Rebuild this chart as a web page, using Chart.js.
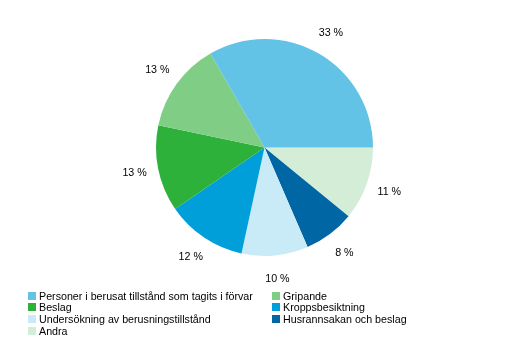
<!DOCTYPE html>
<html>
<head>
<meta charset="utf-8">
<script src="https://cdn.jsdelivr.net/npm/chart.js@4.4.0/dist/chart.umd.min.js"></script>
<style>
  html, body { margin: 0; padding: 0; background: #fff; }
  #wrap { position: relative; width: 529px; height: 340px; overflow: hidden; }
  #chart { position: absolute; left: 0; top: 0; }
  .leg { position: absolute; font: 10.7px Arial, "Liberation Sans", sans-serif; color: #000; white-space: nowrap; line-height: 12px; }
  .leg i { position: absolute; left: -11px; top: 2px; width: 8px; height: 8px; }
</style>
</head>
<body>
<div id="wrap">
  <canvas id="chart" width="529" height="340"></canvas>
</div>
<script>
// shares in percent, counterclockwise from 3 o'clock
const categories = [
    "Personer i berusat tillstånd som tagits i förvar",
    "Gripande",
    "Beslag",
    "Kroppsbesiktning",
    "Undersökning av berusningstillstånd",
    "Husrannsakan och beslag",
    "Andra",
];
const shares = [33.3, 13.4, 12.9, 12.0, 9.9, 7.6, 10.9];
const colors = ["#62c3e7", "#80ce86", "#2eb13b", "#009fda", "#c9eaf7", "#0066a4", "#d4edd6"];

// Chart.js goes clockwise, the reference goes the other way
const order = categories.map((_, i) => i).reverse();

const pctLabels = {
    id: "pctLabels",
    afterDatasetsDraw(chart) {
        const ctx = chart.ctx;
        const meta = chart.getDatasetMeta(0);
        ctx.save();
        ctx.font = "10.7px Arial, 'Liberation Sans', sans-serif";
        ctx.fillStyle = "#000";
        ctx.textAlign = "center";
        ctx.textBaseline = "middle";
        meta.data.forEach((arc, i) => {
            const mid = (arc.startAngle + arc.endAngle) / 2;
            const r = arc.outerRadius + 24;
            const v = chart.data.datasets[0].data[i];
            ctx.fillText(Math.round(v) + " %", arc.x + Math.cos(mid) * r, arc.y + Math.sin(mid) * r);
        });
        ctx.restore();
    },
};

new Chart(document.getElementById("chart"), {
    type: "pie",
    data: {
        labels: order.map((i) => categories[i]),
        datasets: [{
            data: order.map((i) => shares[i]),
            backgroundColor: order.map((i) => colors[i]),
            borderWidth: 0,
        }],
    },
    options: {
        responsive: false,
        animation: false,
        devicePixelRatio: 1,
        rotation: 90,
        layout: { padding: { top: 39, bottom: 84, left: 0, right: 0 } },
        plugins: {
            legend: { display: false },
            tooltip: { enabled: false },
        },
    },
    plugins: [pctLabels],
});

// two-column legend, row-major like the reference
const wrap = document.getElementById("wrap");
categories.forEach((name, i) => {
    const el = document.createElement("div");
    el.className = "leg";
    el.style.left = (i % 2 === 0 ? 39 : 283) + "px";
    el.style.top = (289.5 + Math.floor(i / 2) * 11.8) + "px";
    const box = document.createElement("i");
    box.style.background = colors[i];
    el.appendChild(box);
    el.appendChild(document.createTextNode(name));
    wrap.appendChild(el);
});
</script>
</body>
</html>
